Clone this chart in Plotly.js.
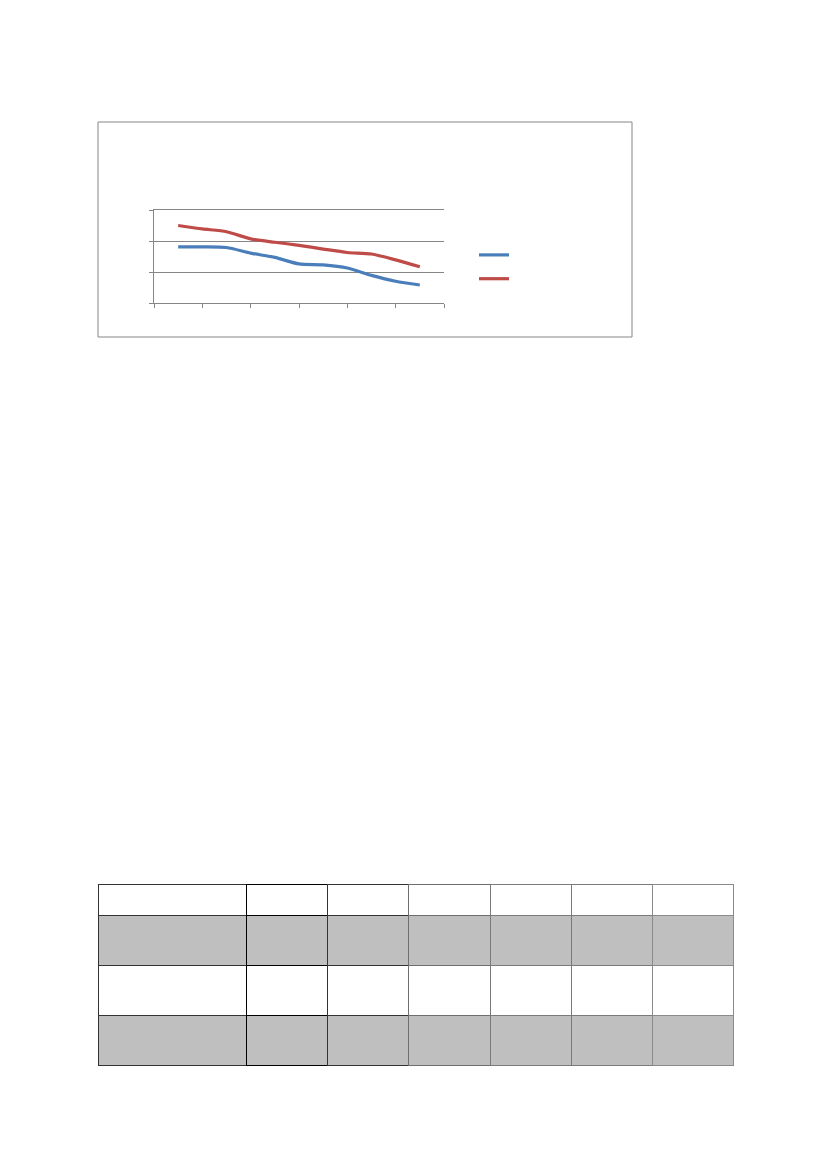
<!DOCTYPE html>
<html>
<head>
<meta charset="utf-8">
<script src="https://cdn.plot.ly/plotly-3.0.1.min.js"></script>
<style>html,body{margin:0;padding:0;background:#fff;}#chart{width:827px;height:1169px;}</style>
</head>
<body>
<div id="chart"></div>
<script>
// Chart data (no labels are visible in the reference)
var xPositions = [1, 2, 3, 4, 5, 6, 7, 8, 9, 10, 11];
var seriesBlue = [18.1, 18.1, 17.9, 16.1, 14.7, 12.6, 12.3, 11.3, 8.9, 7.0, 5.8];
var seriesRed  = [25.0, 23.9, 23.0, 20.7, 19.6, 18.6, 17.4, 16.3, 15.8, 13.9, 11.7];
var seriesNames = [' ', ' '];

// Table data (cells are empty in the reference)
var tableHeader = ['', '', '', '', '', '', ''];
var tableRows = [
  ['', '', '', '', '', '', ''],
  ['', '', '', '', '', '', ''],
  ['', '', '', '', '', '', '']
];
var rowFills = ['#BFBFBF', '#FFFFFF', '#BFBFBF'];

var W = 827, H = 1169;
function px(x){ return x / W; }
function py(y){ return 1 - y / H; }

var cellColumns = tableHeader.map(function(_, c){ return tableRows.map(function(r){ return r[c]; }); });
var fillColumns = tableHeader.map(function(){ return rowFills.slice(); });
var lineCols = ['#333333', '#000000', '#333333', '#6e6e6e', '#7a7a7a', '#7a7a7a', '#8a8a8a'];

var traces = [
  {x: xPositions, y: seriesBlue, type: 'scatter', mode: 'lines', name: seriesNames[0],
   line: {color: '#4A7EBB', width: 3.2, shape: 'spline', smoothing: 0.7}, xaxis: 'x', yaxis: 'y', hoverinfo: 'skip'},
  {x: xPositions, y: seriesRed, type: 'scatter', mode: 'lines', name: seriesNames[1],
   line: {color: '#BE4B48', width: 3.2, shape: 'spline', smoothing: 0.7}, xaxis: 'x', yaxis: 'y', hoverinfo: 'skip'},
  {type: 'table',
   domain: {x: [px(98), px(733)], y: [py(1075), py(884)]},
   columnwidth: [148, 81, 81, 82, 81, 81, 81],
   header: {values: tableHeader, height: 31, fill: {color: '#FFFFFF'}, line: {color: lineCols, width: 1}, font: {size: 11}},
   cells: {values: cellColumns, height: 50, fill: {color: fillColumns}, line: {color: lineCols, width: 1}, font: {size: 11}}
  }
];

var layout = {
  width: W, height: H,
  margin: {l: 0, r: 0, t: 0, b: 0},
  paper_bgcolor: '#FFFFFF', plot_bgcolor: 'rgba(0,0,0,0)',
  showlegend: true,
  legend: {x: px(474), y: py(238), xanchor: 'left', yanchor: 'top', font: {size: 16, color: '#000'}, bgcolor: 'rgba(0,0,0,0)', tracegroupgap: 0},
  xaxis: {domain: [px(154), px(444)], range: [0, 12], dtick: 2, tick0: 0, showticklabels: false,
          ticks: 'outside', ticklen: 4, tickcolor: '#868686', showgrid: false, zeroline: false,
          showline: true, mirror: true, linecolor: '#868686', linewidth: 1, fixedrange: true},
  yaxis: {domain: [py(303), py(210)], range: [0, 30], dtick: 10, tick0: 0, showticklabels: false,
          ticks: 'outside', ticklen: 4, tickcolor: '#868686', showgrid: true, gridcolor: '#868686', gridwidth: 1,
          zeroline: false, showline: true, linecolor: '#868686', linewidth: 1, fixedrange: true},
  shapes: [
    {type: 'rect', xref: 'paper', yref: 'paper', x0: px(98), x1: px(632), y0: py(337), y1: py(122),
     line: {color: '#868686', width: 1}, fillcolor: 'rgba(0,0,0,0)', layer: 'below'}
  ]
};

Plotly.newPlot('chart', traces, layout, {displayModeBar: false, staticPlot: true});
</script>
</body>
</html>
